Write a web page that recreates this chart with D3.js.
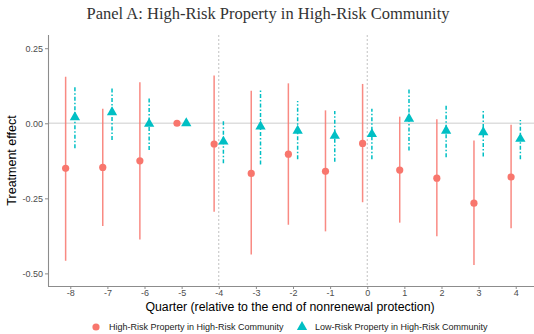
<!DOCTYPE html>
<html>
<head>
<meta charset="utf-8">
<script src="https://cdn.jsdelivr.net/npm/d3@7"></script>
<style>
  body { margin: 0; background: #fff; }
  svg { display: block; }
</style>
</head>
<body>
<svg id="chart" width="534" height="334"></svg>
<script>
// quarters relative to the end of nonrenewal protection
const quarters = [-8, -7, -6, -5, -4, -3, -2, -1, 0, 1, 2, 3, 4];

// High-Risk Property in High-Risk Community
const highEst   = [-0.150, -0.147, -0.125, 0.000, -0.069, -0.167, -0.103, -0.160, -0.067, -0.156, -0.183, -0.266, -0.179];
const highLow   = [-0.458, -0.342, -0.387, null, -0.295, -0.437, -0.338, -0.360, -0.263, -0.331, -0.376, -0.472, -0.350];
const highHigh  = [0.155, 0.048, 0.137, null, 0.159, 0.108, 0.133, 0.043, 0.131, 0.022, 0.013, -0.057, -0.005];

// Low-Risk Property in High-Risk Community
const lowEst    = [0.020, 0.037, -0.002, 0.000, -0.061, -0.011, -0.025, -0.042, -0.036, 0.015, -0.025, -0.030, -0.052];
const lowLow    = [-0.083, -0.056, -0.089, null, -0.133, -0.137, -0.120, -0.128, -0.120, -0.091, -0.113, -0.111, -0.120];
const lowHigh   = [0.120, 0.122, 0.089, null, 0.009, 0.111, 0.074, 0.041, 0.048, 0.117, 0.063, 0.044, 0.011];

const yTicks = [0.25, 0, -0.25, -0.5];
const eventLines = [-4, 0];
const seriesNames = ["High-Risk Property in High-Risk Community", "Low-Risk Property in High-Risk Community"];

const red = "#F8766D", teal = "#00BFC4";
const dodge = 0.125;

const svg = d3.select("#chart");
const padL = 48, padR = 538, padT = 35, padB = 286;

const x = d3.scaleLinear([-8.6, 4.6], [padL, padR]);
const y = d3.scaleLinear([-0.542, 0.294], [padB, padT]);

// title
svg.append("text")
  .attr("x", 268).attr("y", 19)
  .attr("text-anchor", "middle")
  .style("font-family", "'Liberation Serif', 'DejaVu Serif', serif")
  .style("font-size", "16.5px")
  .attr("fill", "#333")
  .text("Panel A: High-Risk Property in High-Risk Community");

// zero line
svg.append("line")
  .attr("x1", padL).attr("x2", 534)
  .attr("y1", y(0)).attr("y2", y(0))
  .attr("stroke", "#dedede").attr("stroke-width", 1.4);

// vertical reference lines
svg.selectAll(".vline").data(eventLines).enter().append("line")
  .attr("x1", d => x(d)).attr("x2", d => x(d))
  .attr("y1", padT).attr("y2", padB)
  .attr("stroke", "#a8a8a8").attr("stroke-width", 0.7)
  .attr("stroke-dasharray", "2,2");

// axes
const yAxis = svg.append("g")
  .attr("transform", `translate(${padL},0)`)
  .call(d3.axisLeft(y).tickValues(yTicks).tickSize(3).tickPadding(2)
    .tickFormat(d => d3.format(".2f")(d).replace("−", "-")));
const xAxis = svg.append("g")
  .attr("transform", `translate(0,${padB})`)
  .call(d3.axisBottom(x).tickValues(quarters).tickSize(3).tickPadding(1)
    .tickFormat(d => String(d).replace("−", "-")));

[yAxis, xAxis].forEach(g => {
  g.select(".domain").attr("stroke", "#8c8c8c").attr("stroke-width", 1.1);
  g.selectAll(".tick line").attr("stroke", "#8c8c8c");
  g.selectAll(".tick text")
    .attr("fill", "#4d4d4d")
    .style("font-family", "'Liberation Sans', Arial, sans-serif")
    .style("font-size", "9px");
});
xAxis.select(".domain").attr("d", `M${padL},0.5H534`);
yAxis.select(".domain").attr("d", `M0.5,${padT}V${padB}`);

// axis titles
svg.append("text")
  .attr("transform", `translate(16,${(padT + padB) / 2}) rotate(-90)`)
  .attr("text-anchor", "middle")
  .style("font-family", "'Liberation Sans', Arial, sans-serif")
  .style("font-size", "12.5px")
  .text("Treatment effect");

svg.append("text")
  .attr("x", 290).attr("y", 311)
  .attr("text-anchor", "middle")
  .style("font-family", "'Liberation Sans', Arial, sans-serif")
  .style("font-size", "12.3px")
  .text("Quarter (relative to the end of nonrenewal protection)");

// build rows
const highRows = quarters.map((q, i) => ({q, est: highEst[i], lo: highLow[i], hi: highHigh[i]}));
const lowRows = quarters.map((q, i) => ({q, est: lowEst[i], lo: lowLow[i], hi: lowHigh[i]}));

// error bars
svg.selectAll(".hbar").data(highRows.filter(d => d.lo !== null)).enter().append("line")
  .attr("x1", d => x(d.q - dodge)).attr("x2", d => x(d.q - dodge))
  .attr("y1", d => y(d.lo)).attr("y2", d => y(d.hi))
  .attr("stroke", red).attr("stroke-opacity", 0.85).attr("stroke-width", 1.5);

svg.selectAll(".lbar").data(lowRows.filter(d => d.lo !== null)).enter().append("line")
  .attr("x1", d => x(d.q + dodge)).attr("x2", d => x(d.q + dodge))
  .attr("y1", d => y(d.lo)).attr("y2", d => y(d.hi))
  .attr("stroke", teal).attr("stroke-width", 1.5)
  .attr("stroke-dasharray", "4,2,1.5,2");

// points
const tri = d3.symbol().type(d3.symbolTriangle).size(46);

svg.selectAll(".hpt").data(highRows).enter().append("circle")
  .attr("cx", d => x(d.q - dodge)).attr("cy", d => y(d.est))
  .attr("r", 3.6).attr("fill", red);

svg.selectAll(".lpt").data(lowRows).enter().append("path")
  .attr("d", tri)
  .attr("transform", d => `translate(${x(d.q + dodge)},${y(d.est)})`)
  .attr("fill", teal);

// legend
const legend = svg.append("g").attr("transform", "translate(0,327)");
const legendX = [96, 302];
seriesNames.forEach((name, i) => {
  if (i === 0) {
    legend.append("circle").attr("cx", legendX[i]).attr("cy", 0).attr("r", 3.6).attr("fill", red);
  } else {
    legend.append("path").attr("d", tri).attr("transform", `translate(${legendX[i]},0)`).attr("fill", teal);
  }
  legend.append("text")
    .attr("x", legendX[i] + 13).attr("y", 3.3)
    .style("font-family", "'Liberation Sans', Arial, sans-serif")
    .style("font-size", "9px")
    .attr("fill", "#222")
    .text(name);
});
</script>
</body>
</html>
